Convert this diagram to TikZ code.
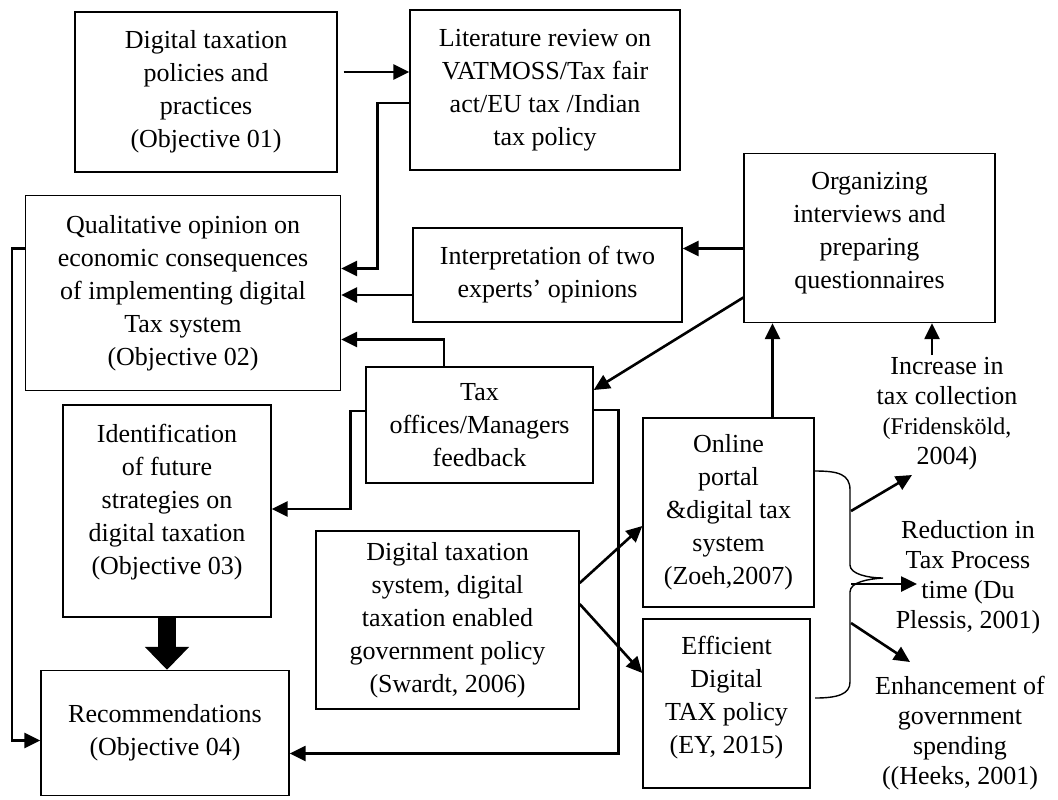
\documentclass[tikz,border=0pt]{standalone}
\usepackage{fontspec}
\setmainfont{Liberation Serif}
\usetikzlibrary{arrows.meta}

% styles for the boxes, labels and connectors
\tikzset{
  box/.style={draw, line width=0.7pt, align=center, inner sep=2pt,
    font=\fontsize{13}{16.5}\selectfont},
  lbl/.style={align=center, inner sep=1pt, font=\fontsize{13}{15}\selectfont},
  arr/.style={line width=1.3pt, -{Triangle[length=8pt,width=7.5pt]}},
  bigarr/.style={line width=9pt, -{Triangle[length=11.5pt,width=21.5pt]}},
  bracel/.style={line width=0.7pt}
}

\begin{document}
\begin{tikzpicture}[x=0.5pt, y=-0.5pt]
\useasboundingbox (0,0) rectangle (1058,799);
% Objectives
\node[box, minimum width=131pt, minimum height=80pt] (obj1) at (206,92)
  {Digital taxation\\policies and\\practices\\(Objective 01)};
\node[box, minimum width=157.5pt, minimum height=97.5pt] (obj2) at (183,293)
  {Qualitative opinion on\\economic consequences\\of implementing digital\\Tax system\\(Objective 02)};
\node[box, minimum width=104pt, minimum height=106pt] (obj3) at (167,511)
  {Identification\\of future\\strategies on\\digital taxation\\(Objective 03)\\[-4.5pt]\mbox{}};
\node[box, minimum width=124pt, minimum height=62.5pt] (rec) at (165,733)
  {Recommendations\\(Objective 04)};
% Middle column
\node[box, minimum width=135pt, minimum height=80pt] (lit) at (545,90)
  {Literature review on\\VATMOSS/Tax fair\\act/EU tax /Indian\\tax policy};
\node[box, minimum width=134.5pt, minimum height=47pt] (interp) at (547.5,275)
  {Interpretation of two\\experts’ opinions};
\node[box, minimum width=113.5pt, minimum height=58pt] (tax) at (479.5,425)
  {Tax\\offices/Managers\\feedback};
\node[box, minimum width=131.5pt, minimum height=89pt] (dts) at (447.5,620)
  {Digital taxation\\system, digital\\taxation enabled\\government policy\\(Swardt, 2006)};
% Right column
\node[box, minimum width=125.5pt, minimum height=84.5pt] (org) at (869.5,238)
  {Organizing\\interviews and\\preparing\\questionnaires\\[-9pt]\mbox{}};
\node[box, minimum width=85.5pt, minimum height=94.5pt] (online) at (728.5,512.5)
  {Online\\portal\\\&digital tax\\system\\(Zoeh,2007)};
\node[box, minimum width=83.5pt, minimum height=84.5pt] (eff) at (726.5,703.5)
  {Efficient\\Digital\\TAX policy\\(EY, 2015)\\[-8pt]\mbox{}};
% Outcome labels
\node[lbl, anchor=north] (inc) at (947,355)
  {Increase in\\tax collection\\\fontsize{12}{14}\selectfont(Fridensköld,\\2004)};
\node[lbl] (red) at (968,577) {Reduction in\\Tax Process\\time (Du\\Plessis, 2001)};
\node[lbl] (enh) at (960,733) {Enhancement of\\government\\spending\\((Heeks, 2001)};

% Connectors
\draw[arr] ([yshift=10pt,xshift=3pt]obj1.east) -- ([yshift=10pt]obj1.east -| lit.west);
\draw[arr] ([yshift=-6.5pt]lit.west) -- ++(-16pt,0pt) |- ([yshift=12.25pt]obj2.east);
\draw[arr] ([yshift=-10pt]interp.west) -- ([yshift=-10pt]interp.west -| obj2.east);
\draw[arr] ([xshift=-17.75pt]tax.north) |- ([yshift=-23.25pt]obj2.east);
\draw[arr] ([yshift=-5.25pt]org.west) -- ([yshift=-5.25pt]org.west -| interp.east);
\draw[arr] ([yshift=-29.75pt]org.west) -- ([yshift=17.5pt]tax.east);
\draw[arr] ([yshift=7pt]tax.west) -- ++(-7.5pt,0pt) |- ([yshift=1pt]obj3.east);
\draw[arr] ([yshift=7.5pt]tax.east) -- ++(12.5pt,0pt) |- ([yshift=-10.25pt]rec.east);
\draw[arr] ([yshift=22.25pt]obj2.west) -- ++(-6.5pt,0pt) |- ([yshift=-3.75pt]rec.west);
\draw[bigarr] (obj3.south) -- (obj3.south |- rec.north);
\draw[arr] ([xshift=22pt]online.north) -- ([xshift=22pt]online.north |- org.south);
\draw[arr] ([xshift=-7.5pt]inc.north) -- ([xshift=-7.5pt]inc.north |- org.south);
\draw[arr] ([yshift=18.5pt]dts.east) -- ([yshift=-6.75pt]online.west);
\draw[arr] ([yshift=8pt]dts.east) -- ([yshift=15.25pt]eff.west);

% Brace and outcome arrows
\coordinate (tip) at (883,578);
\draw[bracel] (815,471) .. controls (838,471) and (850,474) .. (850,490) -- (850,565)
  .. controls (850,574) and (868,578) .. (tip)
  .. controls (868,579) and (850,582) .. (850,592) -- (850,682)
  .. controls (850,694) and (838,698) .. (815,698);
\coordinate (bx1) at (851,511);
\coordinate (bx2) at (851,584);
\coordinate (bx3) at (851,623);
\coordinate (tx1) at (912,475);
\coordinate (tx2) at (917,584);
\coordinate (tx3) at (910,662);
\draw[arr] (bx1) -- (tx1);
\draw[arr] (bx2) -- (tx2);
\draw[arr] (bx3) -- (tx3);
\end{tikzpicture}
\end{document}
